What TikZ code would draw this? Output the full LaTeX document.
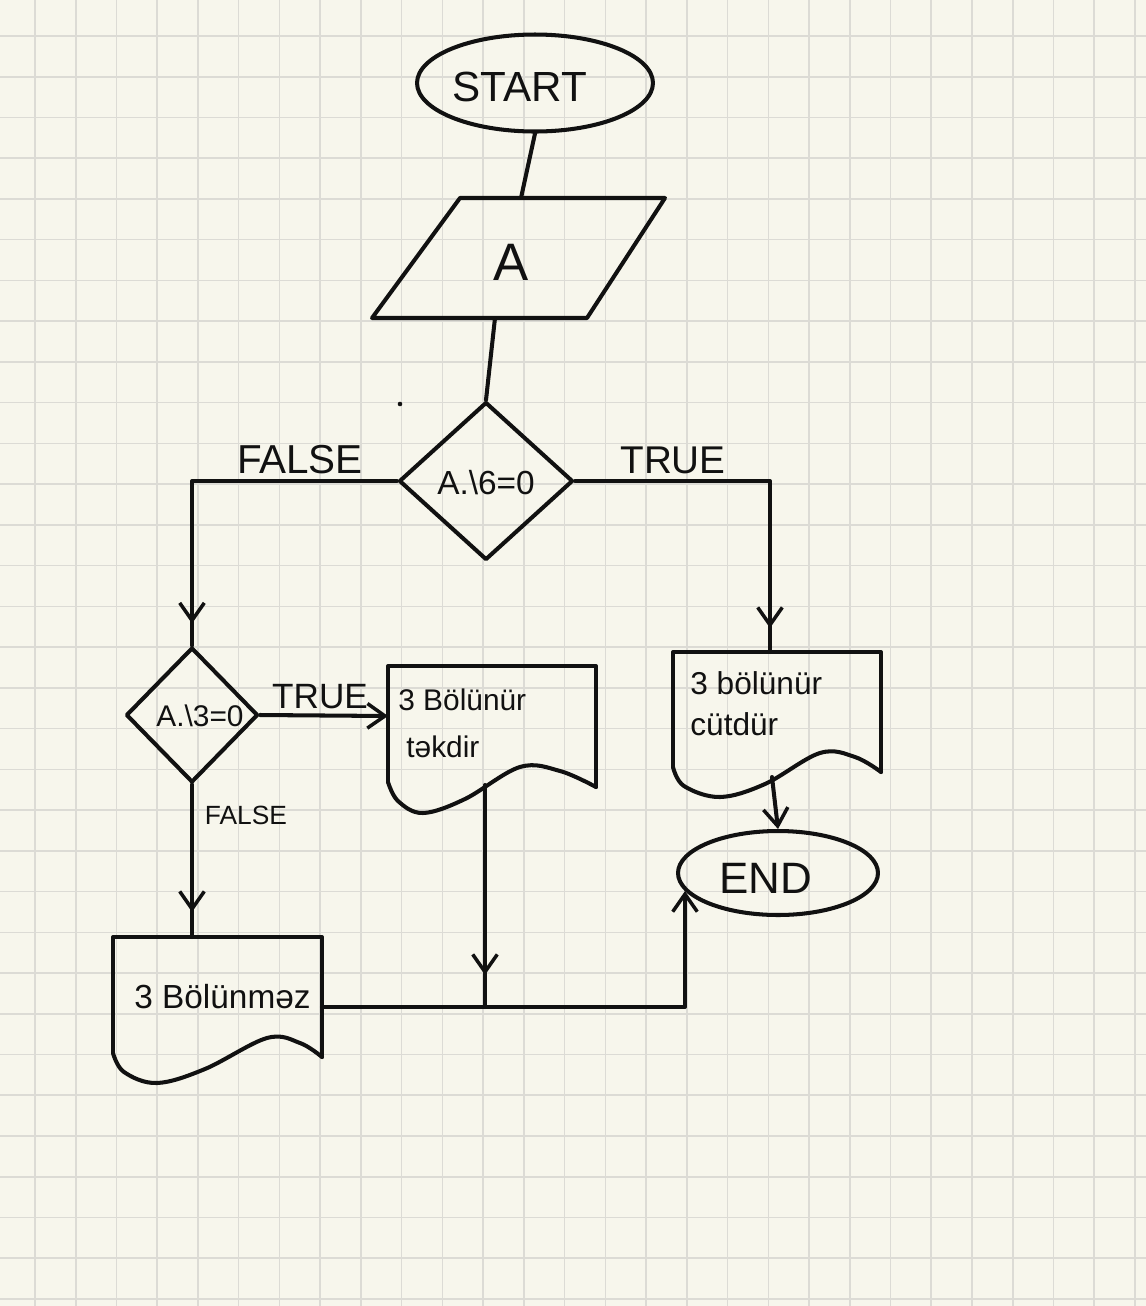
\documentclass[tikz,border=0pt]{standalone}
\usepackage{fontspec}
\setmainfont{Liberation Sans}
\usetikzlibrary{shapes.geometric, arrows.meta, decorations.markings}
\definecolor{paper}{HTML}{F7F6EC}
\definecolor{gridc}{HTML}{DCDBD5}
\definecolor{ink}{HTML}{111111}
\begin{document}
\begin{tikzpicture}[x=0.02cm, y=-0.02cm,
  inkline/.style={draw=ink, line width=2.3pt, line cap=round, line join=round},
  gridline/.style={draw=gridc, line width=0.9pt},
  endtip/.style={-{Straight Barb[length=10pt,width=14pt,line width=2pt]}},
  midtip/.style={postaction={decorate, decoration={markings, mark=at position #1 with {\arrow[line width=2pt]{Straight Barb[length=10pt,width=14pt]}}}}},
  terminal/.style={ellipse, inkline, inner sep=0pt},
  decision/.style={diamond, inkline, inner sep=0pt},
  lbl/.style={text=ink, inner sep=0pt},
]
% background and grid
\fill[paper] (0,0) rectangle (1146,1306);
\useasboundingbox (0,0) rectangle (1146,1306);
\foreach \k in {0,...,27} \draw[gridline] ({35+40.74*\k},0) -- ({35+40.74*\k},1306);
\foreach \k in {0,...,31} \draw[gridline] (0,{36+40.74*\k}) -- (1146,{36+40.74*\k});

% terminals
\node[terminal, minimum width=4.72cm, minimum height=1.94cm] (start) at (535,83) {};
\node[lbl, font=\fontsize{24}{28}\selectfont] (starttxt) at (520,87) {START};
\node[terminal, minimum width=4cm, minimum height=1.68cm] (end) at (778,873) {};
\node[lbl, font=\fontsize{25}{30}\selectfont] (endtxt) at (766,878) {END};

% input parallelogram
\coordinate (ptl) at (460,198);
\coordinate (ptr) at (665,198);
\coordinate (pbr) at (587,318);
\coordinate (pbl) at (372,318);
\draw[inkline] (ptl) -- (ptr) -- (pbr) -- (pbl) -- cycle;
\node[lbl, font=\fontsize{30}{34}\selectfont] (atxt) at (511,262) {A};
\coordinate (ptop) at (521,198);
\coordinate (pbot) at (495,318);

% decisions
\node[decision, minimum width=3.48cm, minimum height=3.16cm] (d1) at (486,481) {};
\node[lbl, font=\fontsize{19}{22}\selectfont] (d1txt) at (486,483) {A.\textbackslash 6=0};
\node[decision, minimum width=2.64cm, minimum height=2.7cm] (d2) at (192,715) {};
\node[lbl, font=\fontsize{17}{20}\selectfont] (d2txt) at (200,716) {A.\textbackslash 3=0};

% documents
% doc1: 3 bolunur cutdur
\draw[inkline] (673,767) -- (673,652) -- (881,652) -- (881,772);
\draw[inkline] plot[smooth, tension=0.6] coordinates {(673,767) (684,786) (720,797) (765,784) (820,753) (855,757) (881,772)};
\coordinate (doc1top) at (770,652);
\coordinate (doc1s) at (772,777);
\node[lbl, anchor=west, font=\fontsize{18}{21}\selectfont] (doc1a) at (690,683) {3 bölünür};
\node[lbl, anchor=west, font=\fontsize{18}{21}\selectfont] (doc1b) at (690,724) {cütdür};

% doc2: 3 Bolunur tekdir
\draw[inkline] (388,782) -- (388,666) -- (596,666) -- (596,787);
\draw[inkline] plot[smooth, tension=0.6] coordinates {(388,782) (398,801) (423,813) (465,799) (520,767) (560,771) (596,787)};
\coordinate (doc2w) at (388,716);
\coordinate (doc2s) at (485,785);
\node[lbl, anchor=west, font=\fontsize{17}{20}\selectfont] (doc2a) at (398,700) {3 Bölünür};
\node[lbl, anchor=west, font=\fontsize{17}{20}\selectfont] (doc2b) at (406,747) {təkdir};

% doc3: 3 Bolunmez
\draw[inkline] (113,1053) -- (113,937) -- (322,937) -- (322,1057);
\draw[inkline] plot[smooth, tension=0.6] coordinates {(113,1053) (124,1072) (157,1083) (205,1069) (267,1038) (300,1043) (322,1057)};
\coordinate (doc3top) at (192,937);
\coordinate (doc3e) at (322,1007);
\node[lbl, anchor=west, font=\fontsize{19}{22}\selectfont] (doc3a) at (134,997) {3 Bölünməz};

\coordinate (join) at (485,1007);

% connectors
\draw[inkline] (start.south) -- (ptop);
\draw[inkline] (pbot) -- (d1.north);
\draw[inkline, midtip=-0.44cm] (d1.west) -| (d2.north);
\draw[inkline, midtip=-0.48cm] (d1.east) -| (doc1top);
\draw[inkline, endtip] (d2.east) -- (doc2w);
\draw[inkline, midtip=-0.5cm] (d2.south) -- (doc3top);
\draw[inkline, midtip=-0.64cm] (doc2s) -- (join);
\draw[inkline, endtip] (doc1s) -- (end.north);
\draw[inkline, endtip] (doc3e) -| (end.191);

% labels on connectors
\node[lbl, font=\fontsize{23}{27}\selectfont] (f1) at (300,460) {FALSE};
\node[lbl, font=\fontsize{22}{26}\selectfont] (t1) at (673,460) {TRUE};
\node[lbl, font=\fontsize{20}{24}\selectfont] (t2) at (320,697) {TRUE};
\node[lbl, font=\fontsize{15}{18}\selectfont] (f2) at (246,815) {FALSE};

% stray dot
\fill[ink] (400,404) circle (1.3pt);
\end{tikzpicture}
\end{document}
